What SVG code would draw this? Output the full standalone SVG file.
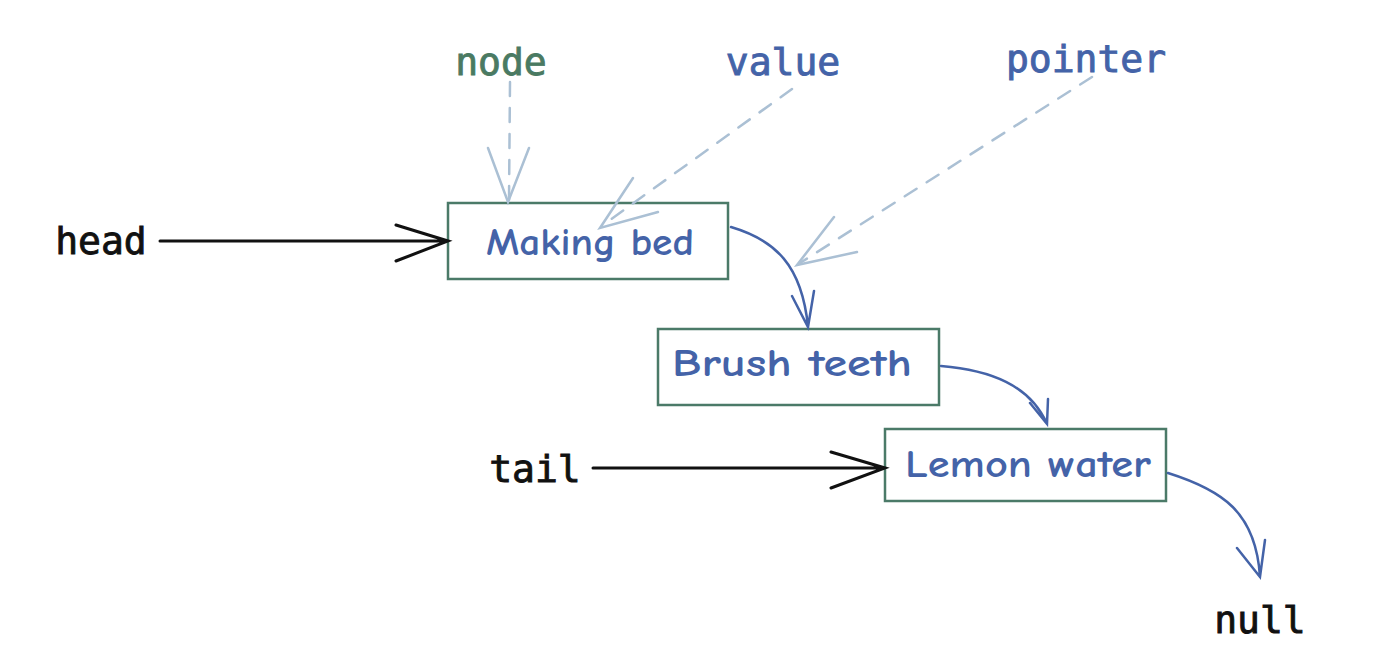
<svg xmlns="http://www.w3.org/2000/svg" width="1374" height="664" viewBox="0 0 1374 664">
<style>
.box{fill:#fff;stroke:#4b7a68;stroke-width:2.5}
.hand{font-family:"Comic Neue","Liberation Sans",sans-serif;font-size:38px;font-weight:bold;fill:#4463a8}
.mono{font-family:"DejaVu Sans Mono","Liberation Mono",monospace;font-size:38px;stroke-width:0.9px}
.blk{fill:#111;stroke:#111}
.grn{fill:#4a7a62;stroke:#4a7a62}
.blu{fill:#4463a8;stroke:#4463a8}
.arr{fill:none;stroke:#111;stroke-width:3;stroke-linecap:round}
.lnk{fill:none;stroke:#4463a8;stroke-width:2.5;stroke-linecap:round}
.dash{fill:none;stroke:#abc0d4;stroke-width:2.5;stroke-dasharray:14 12;stroke-linecap:round}
.head2{fill:none;stroke:#abc0d4;stroke-width:2.5;stroke-linecap:round}
</style>
<rect width="1374" height="664" fill="#fff"/>
<g id="node-making-bed">
<rect class="box" x="448" y="203" width="280" height="76"/>
<text class="hand" x="590" y="255" text-anchor="middle" textLength="208" lengthAdjust="spacingAndGlyphs">Making bed</text>
</g>
<g id="node-brush-teeth">
<rect class="box" x="658" y="329" width="281" height="76"/>
<text class="hand" x="792" y="376" text-anchor="middle" textLength="240" lengthAdjust="spacingAndGlyphs">Brush teeth</text>
</g>
<g id="node-lemon-water">
<rect class="box" x="885" y="429" width="281" height="72"/>
<text class="hand" x="1028" y="477" text-anchor="middle" textLength="246" lengthAdjust="spacingAndGlyphs">Lemon water</text>
</g>
<g id="connectors">
<path class="arr" d="M160,241 L446,241 M396,225 L448,241 L396,261"/>
<path class="arr" d="M593,468 L884,468 M831,452 L885,468 L831,488"/>
<path class="lnk" d="M731,227 C775,240 802,265 808,327 M792,296 L808,327 L814,291"/>
<path class="lnk" d="M941,366 C990,370 1030,385 1047,424 M1030,403 L1047,424 L1048,399"/>
<path class="lnk" d="M1168,473 C1222,490 1256,512 1260,577 M1237,548 L1260,577 L1265,540"/>
<path class="dash" d="M510,82 L509,200"/>
<path class="head2" d="M488,148 L508,202 L529,148"/>
<path class="dash" d="M792,89 L603,225"/>
<path class="head2" d="M633,178 L600,228 L658,212"/>
<path class="dash" d="M1092,77 L800,263"/>
<path class="head2" d="M834,217 L797,265 L857,252"/>
</g>
<g id="label-node"><text class="mono grn" x="501" y="75" text-anchor="middle">node</text></g>
<g id="label-value"><text class="mono blu" x="783" y="75" text-anchor="middle">value</text></g>
<g id="label-pointer"><text class="mono blu" x="1086" y="72" text-anchor="middle">pointer</text></g>
<g id="label-head"><text class="mono blk" x="101" y="254" text-anchor="middle">head</text></g>
<g id="label-tail"><text class="mono blk" x="535" y="482" text-anchor="middle">tail</text></g>
<g id="label-null"><text class="mono blk" x="1260" y="633" text-anchor="middle">null</text></g>
</svg>
